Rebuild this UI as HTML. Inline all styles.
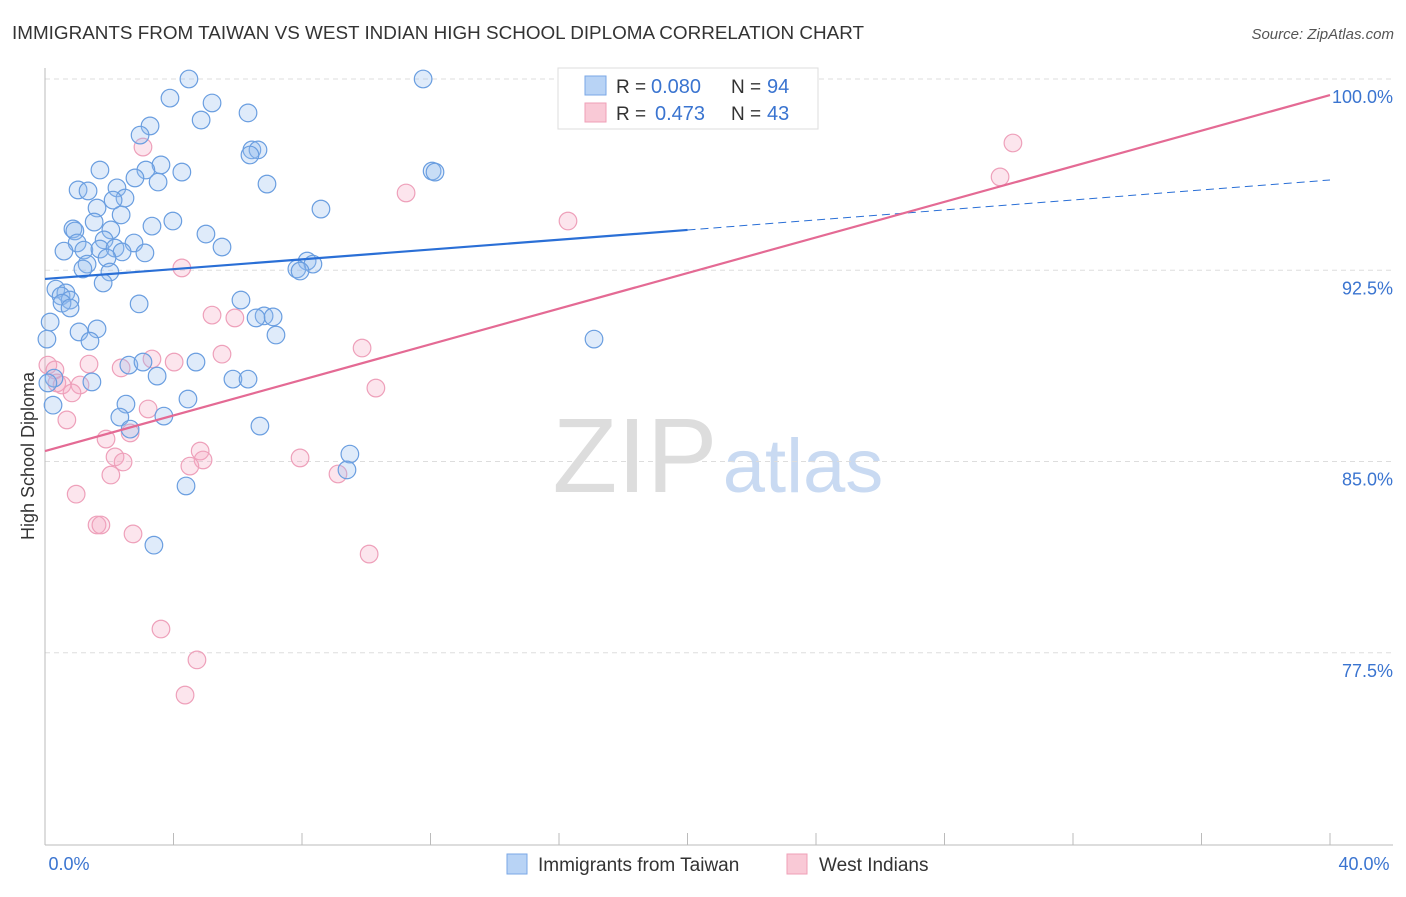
<!DOCTYPE html>
<html><head><meta charset="utf-8"><style>
body{margin:0;background:#fff;font-family:"Liberation Sans",sans-serif;}
svg text{font-family:"Liberation Sans",sans-serif;}
</style></head><body>
<svg id="chart" width="1406" height="892" xmlns="http://www.w3.org/2000/svg">
<text x="12" y="39" font-size="18" fill="#333" textLength="852" lengthAdjust="spacingAndGlyphs">IMMIGRANTS FROM TAIWAN VS WEST INDIAN HIGH SCHOOL DIPLOMA CORRELATION CHART</text>
<text x="1394" y="39" font-size="15" fill="#555" font-style="italic" text-anchor="end">Source: ZipAtlas.com</text>
<text x="635" y="492" font-size="106" fill="#ddd" font-family="Liberation Serif" text-anchor="middle">ZIP</text>
<text x="803" y="492" font-size="76" fill="#c9daf2" text-anchor="middle">atlas</text>
<text transform="translate(34,456) rotate(-90)" font-size="18" fill="#333" text-anchor="middle">High School Diploma</text>
<g id="grid"></g><g id="marks"></g>
<g>
<rect x="558" y="68" width="260" height="61" fill="#fff" stroke="#ddd"/>
<rect x="585" y="76" width="21" height="19" fill="#b8d3f5" stroke="#7aa7e6"/>
<rect x="585" y="103" width="21" height="19" fill="#f9c9d6" stroke="#ef9fb7"/>
<text x="616" y="93" font-size="19" fill="#333">R =</text>
<text x="651" y="93" font-size="20" fill="#3a74d0">0.080</text>
<text x="731" y="93" font-size="19" fill="#333">N =</text>
<text x="767" y="93" font-size="20" fill="#3a74d0">94</text>
<text x="616" y="120" font-size="19" fill="#333">R =</text>
<text x="655" y="120" font-size="20" fill="#3a74d0">0.473</text>
<text x="731" y="120" font-size="19" fill="#333">N =</text>
<text x="767" y="120" font-size="20" fill="#3a74d0">43</text>
</g>
<g>
<rect x="507" y="854" width="20" height="20" fill="#b8d3f5" stroke="#7aa7e6"/>
<text x="538" y="871" font-size="19" fill="#333">Immigrants from Taiwan</text>
<rect x="787" y="854" width="20" height="20" fill="#f9c9d6" stroke="#ef9fb7"/>
<text x="819" y="871" font-size="19" fill="#333">West Indians</text>
</g>
</svg>
<script>
const yTicks=[100,92.5,85,77.5];
const yTickLabels=["100.0%","92.5%","85.0%","77.5%"];
const xEnds=[0,40];
const xEndLabels=["0.0%","40.0%"];
const taiwanX=[4.48,11.77,3.89,5.20,6.32,4.86,3.27,2.96,6.44,6.63,6.38,1.71,3.61,3.14,4.26,12.05,12.14,2.80,3.52,6.91,1.03,1.34,2.24,2.49,2.12,1.62,8.59,2.37,1.53,3.33,3.98,0.87,0.93,2.05,5.01,1.84,1.00,2.77,5.51,0.59,1.21,1.71,2.18,2.40,3.11,1.93,1.31,8.16,8.34,7.84,7.94,1.18,2.02,1.81,0.34,0.65,0.50,0.78,6.10,2.93,0.53,0.78,0.16,6.82,6.57,7.10,1.62,1.06,7.19,1.40,17.09,0.06,4.70,2.61,3.05,3.49,0.28,5.85,6.32,1.46,0.09,0.25,4.45,2.52,2.33,3.70,2.65,6.69,9.49,9.40,4.39,3.39];
const taiwanY=[100,100,99.25,99.06,98.67,98.39,98.16,97.80,97.22,97.22,97.02,96.43,96.63,96.43,96.35,96.39,96.35,96.12,95.96,95.88,95.65,95.61,95.73,95.33,95.25,94.94,94.90,94.67,94.39,94.23,94.43,94.12,94.04,94.08,93.92,93.69,93.57,93.57,93.41,93.25,93.29,93.33,93.37,93.22,93.18,92.98,92.74,92.86,92.74,92.55,92.47,92.55,92.43,92.00,91.76,91.61,91.49,91.33,91.33,91.18,91.21,91.02,90.47,90.71,90.63,90.67,90.20,90.08,89.96,89.72,89.80,89.80,88.90,88.78,88.90,88.35,88.27,88.23,88.23,88.12,88.08,87.21,87.45,87.25,86.74,86.78,86.27,86.39,85.29,84.67,84.04,81.72];
const wiX=[3.05,30.13,29.73,11.24,16.28,4.26,5.20,5.91,5.51,9.87,3.33,4.02,0.09,0.31,1.37,2.37,0.37,0.53,1.09,0.84,10.30,3.21,0.68,2.65,1.90,4.83,2.18,2.43,4.92,4.51,7.94,9.12,2.05,0.97,1.62,1.74,2.74,10.09,3.61,4.73,4.36];
const wiY=[97.33,97.49,96.16,95.53,94.43,92.59,90.74,90.63,89.21,89.45,89.02,88.90,88.78,88.59,88.82,88.67,88.08,88.00,88.00,87.69,87.88,87.06,86.63,86.12,85.88,85.41,85.18,84.98,85.06,84.82,85.14,84.51,84.47,83.72,82.51,82.51,82.16,81.37,78.43,77.22,75.84];
const taiwanTrendX=[0,20,40];
const taiwanTrendY=[92.16,94.08,96.04];
const wiTrendX=[0,40];
const wiTrendY=[85.41,99.37];

const X=v=>45+v/40*1285;
const Y=v=>79+(100-v)/30*765;
const NS="http://www.w3.org/2000/svg";
const grid=document.getElementById('grid'),marks=document.getElementById('marks');
function mk(tag,attrs,parent){const e=document.createElementNS(NS,tag);for(const k in attrs)e.setAttribute(k,attrs[k]);parent.appendChild(e);return e;}
yTicks.forEach((t,i)=>{
  const l=mk('line',{x1:45,x2:1393,y1:Y(t),y2:Y(t),stroke:'#ddd','stroke-dasharray':'5,4'},grid);
  
  
  const tx=mk('text',{x:1393,y:Y(t)+24,'font-size':18,fill:'#3a74d0','text-anchor':'end'},grid);
  tx.textContent=yTickLabels[i];
  
  
});
const ax=mk('line',{x1:45,x2:45,y1:68,y2:845,stroke:'#bbb'},grid);


const bx=mk('line',{x1:45,x2:1393,y1:845,y2:845,stroke:'#bbb'},grid);


for(let v=0;v<=40;v+=4){
  const t=mk('line',{x1:X(v),x2:X(v),y1:833,y2:845,stroke:'#bbb'},grid);
  
  
}
xEnds.forEach((v,i)=>{
  const tx=mk('text',{x:X(v)+(i?34:24),y:870,'font-size':18,fill:'#3a74d0','text-anchor':'middle'},grid);
  tx.textContent=xEndLabels[i];
  
  
});
wiX.forEach((v,i)=>{
  const c=mk('circle',{cx:X(v),cy:Y(wiY[i]),r:8.8,fill:'rgba(246,170,195,0.3)',stroke:'#eea0ba','stroke-width':1.2},marks);
  
  
});
taiwanX.forEach((v,i)=>{
  const c=mk('circle',{cx:X(v),cy:Y(taiwanY[i]),r:8.8,fill:'rgba(150,190,240,0.3)',stroke:'#6a9ee0','stroke-width':1.2},marks);
  
  
});
const tb=mk('line',{x1:X(taiwanTrendX[0]),y1:Y(taiwanTrendY[0]),x2:X(taiwanTrendX[1]),y2:Y(taiwanTrendY[1]),stroke:'#2a6fd6','stroke-width':2.2},marks);


const td=mk('line',{x1:X(taiwanTrendX[1]),y1:Y(taiwanTrendY[1]),x2:X(taiwanTrendX[2]),y2:Y(taiwanTrendY[2]),stroke:'#2a6fd6','stroke-width':1,'stroke-dasharray':'8,5'},marks);


const pl=mk('line',{x1:X(wiTrendX[0]),y1:Y(wiTrendY[0]),x2:X(wiTrendX[1]),y2:Y(wiTrendY[1]),stroke:'#e46a94','stroke-width':2.2},marks);


</script>
</body></html>
